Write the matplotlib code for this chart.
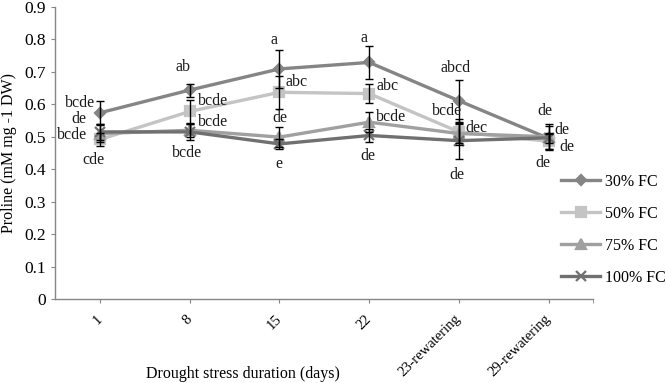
import numpy as np
import matplotlib
matplotlib.use("Agg")
import matplotlib.pyplot as plt

plt.rcParams['font.family'] = ['Liberation Serif', 'DejaVu Serif']

# categories on the x axis
days = ['1', '8', '15', '22', '23-rewatering', '29-rewatering']

# proline content (mM mg-1 DW) and error bars per treatment
fc30 = [0.574, 0.644, 0.709, 0.729, 0.611, 0.495]
fc30_err = [0.035, 0.020, 0.058, 0.050, 0.065, 0.015]
fc50 = [0.492, 0.578, 0.637, 0.633, 0.515, 0.486]
fc50_err = [0.020, 0.035, 0.050, 0.030, 0.040, 0.025]
fc75 = [0.510, 0.520, 0.499, 0.545, 0.510, 0.500]
fc75_err = [0.025, 0.020, 0.030, 0.030, 0.030, 0.040]
fc100 = [0.515, 0.515, 0.478, 0.504, 0.488, 0.497]
fc100_err = [0.025, 0.025, 0.015, 0.020, 0.055, 0.035]

series_names = ['30% FC', '50% FC', '75% FC', '100% FC']

# significance letters: (category index, x nudge, y value, text)
letters = [
    (0, -0.22, 0.604, 'bcde'), (0, -0.24, 0.556, 'de'),
    (0, -0.31, 0.507, 'bcde'), (0, -0.08, 0.427, 'cde'),
    (1, -0.08, 0.716, 'ab'), (1, 0.26, 0.611, 'bcde'),
    (1, 0.26, 0.547, 'bcde'), (1, -0.03, 0.449, 'bcde'),
    (2, -0.06, 0.799, 'a'), (2, 0.19, 0.670, 'abc'),
    (2, 0.00, 0.559, 'de'), (2, -0.01, 0.415, 'e'),
    (3, -0.06, 0.805, 'a'), (3, 0.21, 0.657, 'abc'),
    (3, 0.24, 0.562, 'bcde'), (3, -0.01, 0.442, 'de'),
    (4, -0.04, 0.713, 'abcd'), (4, -0.13, 0.578, 'bcde'),
    (4, 0.20, 0.528, 'dec'), (4, -0.02, 0.381, 'de'),
    (5, -0.04, 0.578, 'de'), (5, 0.15, 0.522, 'de'),
    (5, 0.20, 0.467, 'de'), (5, -0.06, 0.418, 'de'),
]

fig = plt.figure(figsize=(6.66, 3.83), dpi=100)
ax = fig.add_axes([0.083, 0.219, 0.808, 0.763])

x = np.arange(len(days))
styles = [
    (fc30, fc30_err, '#858585', 'D', 5.5),
    (fc50, fc50_err, '#c4c4c4', 's', 6.5),
    (fc75, fc75_err, '#a0a0a0', '^', 7),
    (fc100, fc100_err, '#707070', 'x', 6.5),
]
for (vals, err, col, mk, ms), name in zip(styles, series_names):
    ax.errorbar(x, vals, yerr=err, fmt='none', ecolor='black', elinewidth=1.0,
                capsize=3, capthick=1.0, zorder=3)
    ax.plot(x, vals, color=col, lw=2.4, marker=mk, ms=ms, mfc=col, mec=col,
            mew=1.6, label=name, zorder=2)

for i, dx, y, t in letters:
    ax.text(x[i] + dx, y, t, ha='center', va='center', fontsize=11.5, color='#1a1a1a')

ax.set_xlim(-0.5, len(days) - 0.5)
ax.set_ylim(0, 0.9)
ax.set_yticks(np.arange(0, 0.91, 0.1))
ax.set_yticklabels(['0', '0.1', '0.2', '0.3', '0.4', '0.5', '0.6', '0.7', '0.8', '0.9'])
ax.set_xticks(x)
ax.set_xticklabels(days, rotation=45, ha='right', va='center', rotation_mode='anchor')
ax.set_xticks([len(days) - 0.5], minor=True)

for s in ['top', 'right']:
    ax.spines[s].set_visible(False)
for s in ['left', 'bottom']:
    ax.spines[s].set_color('#868686')
    ax.spines[s].set_linewidth(1.0)
ax.tick_params(axis='y', direction='out', length=3, color='#868686', labelsize=12.5, pad=4)
ax.tick_params(axis='x', which='both', direction='out', length=3, color='#868686',
               labelsize=10.5, pad=10)

ax.set_ylabel('Proline (mM mg -1 DW)', fontsize=11.5)
ax.yaxis.set_label_coords(-0.072, 0.5)
fig.text(243 / 666, 1 - 374 / 383, 'Drought stress duration (days)', ha='center',
         va='center', fontsize=11.5)

ax.legend(loc='center left', bbox_to_anchor=(0.843, 0.40), bbox_transform=fig.transFigure,
          frameon=False, fontsize=11.5, handlelength=2.4, handletextpad=0.3,
          labelspacing=1.0, borderpad=0, borderaxespad=0)

fig.savefig('out.png', dpi=100)
